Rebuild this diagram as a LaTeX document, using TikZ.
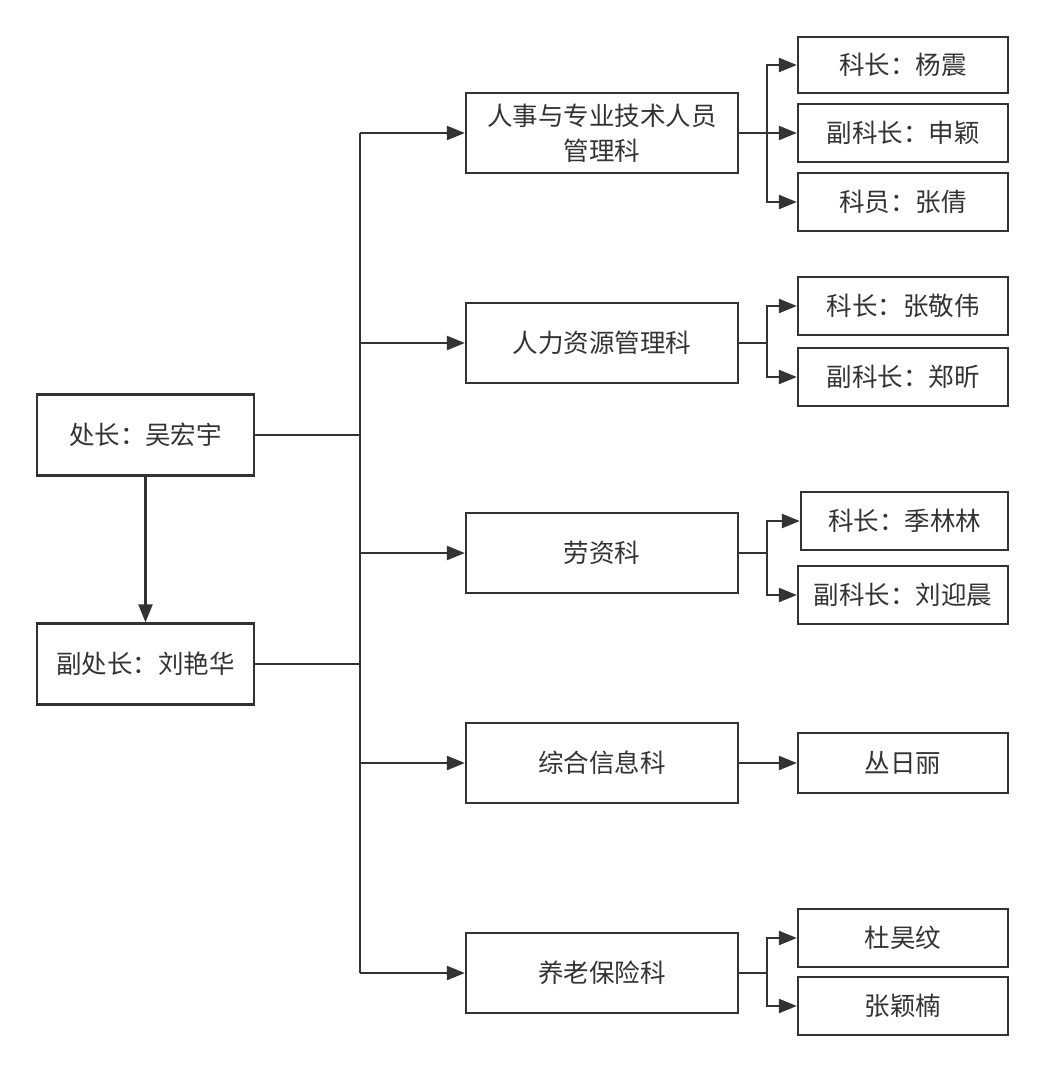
\documentclass[tikz,border=0pt]{standalone}
\usepackage{fontspec}
\newfontfamily\cjk{Noto Sans CJK SC}
\usetikzlibrary{arrows.meta}
\definecolor{ink}{HTML}{333333}
\begin{document}
\begin{tikzpicture}[x=1pt,y=-1pt,
  box/.style={draw=ink,line width=2.3pt,text=ink,align=center,inner sep=0pt,
    font=\cjk\fontsize{25.5}{35}\selectfont},
  lead/.style={box,minimum width=217pt,minimum height=81pt},
  dept/.style={box,minimum width=272pt,minimum height=80pt},
  staff/.style={box,minimum width=210pt,minimum height=58pt},
  conn/.style={draw=ink,line width=2.3pt},
  arr/.style={conn,-{Triangle[length=18pt,width=14pt]}}]
\useasboundingbox (0,0) rectangle (1045,1072);
% leaders
\node[lead] (chief) at (145.5,435) {处长：吴宏宇};
\node[lead] (vice) at (145.5,664) {副处长：刘艳华};
% departments
\node[dept] (m1) at (602,133) {人事与专业技术人员\\管理科};
\node[dept] (m2) at (602,343) {人力资源管理科};
\node[dept] (m3) at (602,553) {劳资科};
\node[dept] (m4) at (602,763) {综合信息科};
\node[dept] (m5) at (602,973) {养老保险科};
% staff
\node[staff,minimum height=56pt] (r11) at (903,65) {科长：杨震};
\node[staff] (r12) at (903,133) {副科长：申颖};
\node[staff] (r13) at (903,202) {科员：张倩};
\node[staff] (r21) at (903,306) {科长：张敬伟};
\node[staff] (r22) at (903,377) {副科长：郑昕};
\node[staff,minimum width=207pt] (r31) at (904.5,521) {科长：季林林};
\node[staff] (r32) at (903,595) {副科长：刘迎晨};
\node[staff,minimum height=60pt] (r4) at (903,763) {丛日丽};
\node[staff] (r51) at (903,938) {杜昊纹};
\node[staff] (r52) at (903,1006) {张颖楠};
% trunk
\coordinate (tx) at (360,0);
\coordinate (jx) at (767,0);
\draw[arr] (chief) -- (vice);
\draw[conn] (chief.east) -- (chief.east -| tx);
\draw[conn] (vice.east) -- (vice.east -| tx);
\draw[conn] (m1.west -| tx) -- (m5.west -| tx);
\foreach \m in {m1,m2,m3,m4,m5}
  \draw[arr] (\m.west -| tx) -- (\m.west);
% right side junctions
\coordinate (j1) at (m1.east -| jx);
\coordinate (j2) at (m2.east -| jx);
\coordinate (j3) at (m3.east -| jx);
\coordinate (j5) at (m5.east -| jx);
\draw[conn] (m1.east) -- (j1);
\draw[arr] (j1) |- (r11.west);
\draw[arr] (j1) -- (r12.west);
\draw[arr] (j1) |- (r13.west);
\draw[conn] (m2.east) -- (j2);
\draw[arr] (j2) |- (r21.west);
\draw[arr] (j2) |- (r22.west);
\draw[conn] (m3.east) -- (j3);
\draw[arr] (j3) |- (r31.west);
\draw[arr] (j3) |- (r32.west);
\draw[arr] (m4) -- (r4);
\draw[conn] (m5.east) -- (j5);
\draw[arr] (j5) |- (r51.west);
\draw[arr] (j5) |- (r52.west);
\end{tikzpicture}
\end{document}
